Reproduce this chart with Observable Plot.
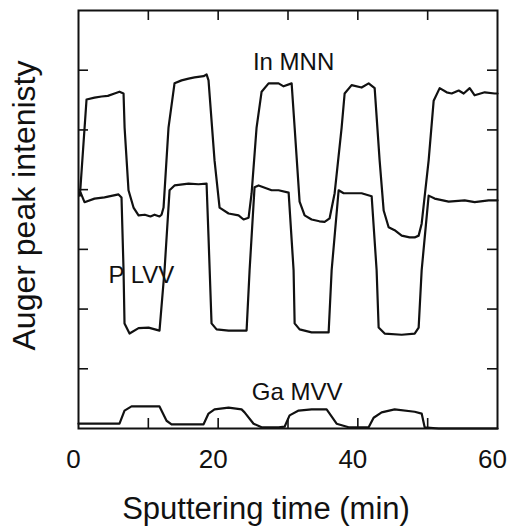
<!DOCTYPE html>
<html>
<head>
<meta charset="utf-8">
<script src="https://cdn.jsdelivr.net/npm/d3@7"></script>
<script src="https://cdn.jsdelivr.net/npm/@observablehq/plot@0.6"></script>
<style>
  html, body { margin: 0; padding: 0; background: #fff; }
  #chart { width: 510px; height: 532px; }
</style>
</head>
<body>
<div id="chart"></div>
<script>
// Sputtering time (min), Auger peak intensity (arb. units)
const inMNN = [
  [0.2,3.9],[1.15,5.51],[2.3,5.54],[3.3,5.56],[4.2,5.57],[5.16,5.61],[5.87,5.64],[6.45,5.61],
  [6.6,5.04],[7.16,3.99],[7.88,3.70],[8.6,3.57],[9.5,3.58],[10.3,3.55],[10.89,3.58],[11.6,3.55],[11.89,3.58],
  [12.18,3.70],[12.89,5.04],[13.75,5.78],[14.76,5.83],[15.76,5.86],[16.62,5.88],[17.91,5.90],[18.34,5.93],
  [18.62,5.83],[19.48,4.49],[20.2,3.70],[21.49,3.60],[22.92,3.57],[23.64,3.50],[24.36,3.53],
  [24.79,3.94],[25.5,5.04],[26.22,5.64],[27.22,5.78],[28.65,5.78],[29.37,5.73],[30.52,5.78],
  [30.95,5.04],[31.66,3.80],[32.38,3.57],[33.38,3.50],[34.5,3.47],[35.24,3.46],[35.96,3.52],
  [36.68,3.94],[37.68,5.04],[38.11,5.61],[39.11,5.75],[40.54,5.71],[41.55,5.78],[42.41,5.70],
  [43.12,4.49],[43.7,3.65],[44.41,3.37],[45.27,3.32],[46.28,3.23],[47.42,3.20],[48.14,3.20],[48.71,3.23],
  [49.14,3.43],[50.14,4.49],[50.86,5.49],[51.72,5.70],[52.72,5.63],[53.44,5.61],[54.44,5.66],[55.16,5.61],
  [56.02,5.70],[56.73,5.58],[58.17,5.63],[59.6,5.61],[60,5.61]
];
const pLVV = [
  [0.3,3.95],[0.86,3.79],[2.29,3.85],[3.72,3.87],[5.73,3.92],[6.16,3.87],
  [6.45,2.65],[6.59,1.76],[7.31,1.59],[8.6,1.68],[10.03,1.69],[11.6,1.64],
  [12.32,2.65],[13.04,3.99],[13.75,4.07],[15.76,4.10],[17.19,4.09],[18.34,4.10],
  [18.62,3.20],[19.05,1.76],[19.77,1.66],[21.49,1.64],[24.07,1.64],
  [24.5,2.65],[25.21,4.04],[25.79,4.07],[27.65,3.99],[28.65,3.99],[30.09,3.95],
  [30.8,2.65],[30.95,1.76],[31.66,1.66],[33.38,1.61],[35.82,1.61],
  [36.25,2.65],[37.25,3.99],[37.97,3.94],[40.11,3.94],[40.54,3.94],[41.98,3.89],
  [42.69,2.65],[42.98,1.69],[43.84,1.59],[46.28,1.57],[48.14,1.59],[48.71,1.69],
  [49.14,2.65],[50.14,3.90],[51.0,3.85],[53.01,3.80],[55.3,3.82],[56.73,3.79],[58.74,3.82],[60,3.82]
];
const gaMVV = [
  [0,0.08],[5.87,0.08],[6.59,0.30],[7.59,0.37],[10.03,0.37],[11.6,0.37],[12.61,0.13],[13.32,0.07],
  [14.76,0.07],[17.91,0.07],[18.62,0.25],[19.48,0.32],[21.49,0.35],[23.35,0.32],[23.78,0.27],
  [25.07,0.08],[26.22,0.02],[28.65,0.02],[29.51,0.03],[30.23,0.22],[31.52,0.30],[33.38,0.32],
  [35.53,0.32],[35.96,0.25],[36.96,0.08],[38.68,0.02],[41.55,0.02],[42.26,0.18],[43.41,0.27],
  [45.27,0.32],[48.14,0.28],[49.14,0.25],[49.57,0.02],[51.58,0.0],[56.3,0.0],[60,0.0]
];
const seriesLabels = [
  {name: "In MNN", x: 30.8, y: 6.13},
  {name: "P LVV", x: 9.0, y: 2.56},
  {name: "Ga MVV", x: 31.3, y: 0.60}
];
const xTicks = [10, 20, 30, 40, 50];
const xTickLabels = [0, 20, 40, 60];
const yTicks = [1, 2, 3, 4, 5, 6];
const xLabel = "Sputtering time (min)";
const yLabel = "Auger peak intenisty";

const font = "'Liberation Sans', Arial, Helvetica, sans-serif";
const lineStyle = {x: d => d[0], y: d => d[1], stroke: "#111", strokeWidth: 2.2, strokeLinejoin: "round"};

const chart = Plot.plot({
  width: 510,
  height: 532,
  marginLeft: 78,
  marginRight: 13,
  marginTop: 10,
  marginBottom: 104,
  style: {fontFamily: font, background: "#fff", color: "#111"},
  x: {domain: [0, 60]},
  y: {domain: [0, 7]},
  marks: [
    Plot.axisX({ticks: xTickLabels, tickSize: 0, tickPadding: 21, fontSize: 26, label: null, dx: -5}),
    Plot.axisY({ticks: [], label: null}),
    Plot.tickX(xTicks, {x: d => d, insetTop: 408, stroke: "#111", strokeWidth: 1.6}),
    Plot.tickX(xTicks, {x: d => d, insetBottom: 408, stroke: "#111", strokeWidth: 1.6}),
    Plot.tickY(yTicks, {y: d => d, insetLeft: 409, stroke: "#111", strokeWidth: 1.6}),
    Plot.tickY(yTicks, {y: d => d, insetRight: 409, stroke: "#111", strokeWidth: 1.6}),
    Plot.line(inMNN, lineStyle),
    Plot.line(pLVV, lineStyle),
    Plot.line(gaMVV, lineStyle),
    Plot.frame({stroke: "#111", strokeWidth: 2}),
    Plot.text(seriesLabels, {x: "x", y: "y", text: "name", textAnchor: "middle", fontSize: 24, fill: "#111"}),
    Plot.text([xLabel], {text: d => d, frameAnchor: "bottom", textAnchor: "middle", dx: -22, dy: 90, fontSize: 31, fill: "#111"}),
    Plot.text([yLabel], {text: d => d, frameAnchor: "left", textAnchor: "middle", dx: -54, dy: -14, rotate: -90, fontSize: 32, fill: "#111"})
  ]
});
document.getElementById("chart").appendChild(chart);
</script>
</body>
</html>
